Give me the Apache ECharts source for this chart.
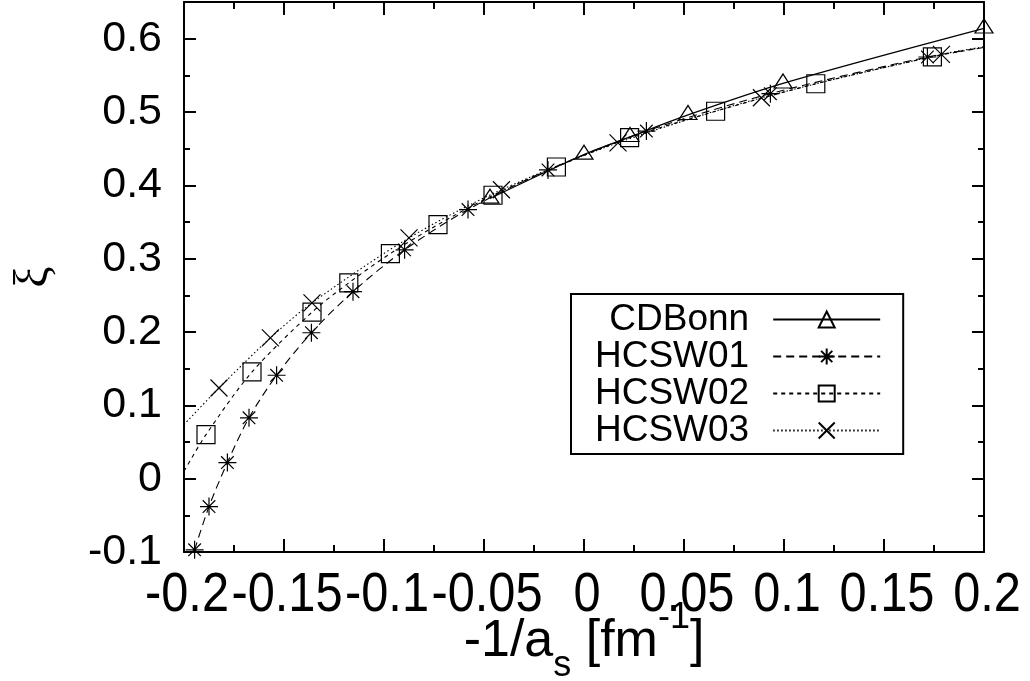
<!DOCTYPE html>
<html>
<head>
<meta charset="utf-8">
<script src="https://cdn.jsdelivr.net/npm/echarts@6/dist/echarts.min.js"></script>
<style>html,body{margin:0;padding:0;background:#fff;}#c{width:1030px;height:681px;}</style>
</head>
<body>
<div id="c"></div>
<script>
// ---- data ----
const seriesNames = ['CDBonn', 'HCSW01', 'HCSW02', 'HCSW03'];

const cdbonnX = [-0.047, 0.0, 0.023, 0.052, 0.0995, 0.2];
const cdbonnY = [0.382, 0.442, 0.466, 0.496, 0.539, 0.614];

const hcsw01X = [-0.1947, -0.1875, -0.1783, -0.1675, -0.1537, -0.1363, -0.1155, -0.0897, -0.058, -0.018, 0.0312, 0.0932, 0.1717];
const hcsw01Y = [-0.097, -0.038, 0.022, 0.083, 0.141, 0.199, 0.255, 0.312, 0.367, 0.421, 0.474, 0.525, 0.575];
const hcsw01LineStart = [];
const hcsw01LineEnd = [[0.2, 0.588]];

const hcsw02X = [-0.189, -0.166, -0.136, -0.1176, -0.0968, -0.073, -0.0455, -0.0138, 0.0228, 0.0658, 0.1159, 0.1742];
const hcsw02Y = [0.060, 0.1455, 0.227, 0.267, 0.307, 0.3465, 0.3865, 0.425, 0.465, 0.501, 0.5385, 0.5753];
const hcsw02LineStart = [[-0.2, 0.01]];
const hcsw02LineEnd = [[0.2, 0.588]];

const hcsw03X = [-0.1825, -0.1568, -0.136, -0.0875, -0.0413, 0.017, 0.0887, 0.1787];
const hcsw03Y = [0.1237, 0.192, 0.2397, 0.3284, 0.394, 0.458, 0.5194, 0.5785];
const hcsw03LineStart = [[-0.2, 0.0737]];
const hcsw03LineEnd = [[0.2, 0.589]];

const xTickLabels = ['-0.2', '-0.15', '-0.1', '-0.05', '0', '0.05', '0.1', '0.15', '0.2'];
const xTickMin = -0.2, xTickMax = 0.2, xTickStep = 0.05;
const yTickMin = -0.1, yTickMax = 0.6, yTickStep = 0.1, yAxisMax = 0.65;

// ---- build ----
const FONT = "'Liberation Sans', Arial, Helvetica, sans-serif";
function buildData(xs, ys, start, end) {
  const out = [];
  (start || []).forEach(p => out.push({ value: p, symbol: 'none' }));
  xs.forEach((x, i) => out.push({ value: [x, ys[i]] }));
  (end || []).forEach(p => out.push({ value: p, symbol: 'none' }));
  return out;
}
const asteriskPath = 'path://M0,10L20,10M10,0L10,20M3,3L17,17M17,3L3,17';
const crossPath = 'path://M0,0L20,20M20,0L0,20';

const axisLineStyle = { color: '#000', width: 2 };
function xAxisDef(pos) {
  return {
    type: 'value', position: pos, min: xTickMin, max: xTickMax, interval: xTickStep,
    axisLine: { show: true, onZero: false, lineStyle: axisLineStyle },
    axisTick: { show: true, inside: true, length: 13, lineStyle: { color: '#000', width: 2 } },
    minorTick: { show: true, splitNumber: 2, length: 7, lineStyle: { color: '#000', width: 2 } },
    splitLine: { show: false },
    axisLabel: { show: false },
    silent: true
  };
}
function yAxisDef(pos, step, len, showLine, showLabel) {
  return {
    type: 'value', position: pos, min: yTickMin, max: yAxisMax, interval: step,
    axisLine: { show: showLine, onZero: false, lineStyle: axisLineStyle },
    axisTick: { show: true, inside: true, length: len, lineStyle: { color: '#000', width: 2 } },
    splitLine: { show: false },
    axisLabel: {
      show: showLabel, color: '#000', fontSize: 43, fontFamily: FONT, margin: 22,
      hideOverlap: false, showMinLabel: true,
      formatter: v => (v > yTickMax + 1e-9 ? '' : String(Math.round(v * 10) / 10))
    },
    silent: true
  };
}

const xAxes = [xAxisDef('bottom'), xAxisDef('top')];
xAxes[0].name = '-1/a{sub|s} [fm{sup|-1}]';
xAxes[0].nameLocation = 'middle';
xAxes[0].nameGap = 48;
xAxes[0].nameTextStyle = {
  color: '#000', fontSize: 52, fontFamily: FONT, lineHeight: 84,
  rich: {
    sub: { fontSize: 36, lineHeight: 36, verticalAlign: 'bottom', fontFamily: FONT, color: '#000' },
    sup: { fontSize: 36, lineHeight: 36, verticalAlign: 'top', fontFamily: FONT, color: '#000' }
  }
};

const yAxes = [
  yAxisDef('left', yTickStep, 12, true, true),
  yAxisDef('left', yTickStep / 2, 6, false, false),
  yAxisDef('right', yTickStep, 12, true, false),
  yAxisDef('right', yTickStep / 2, 6, false, false)
];
yAxes[0].name = 'ξ';
yAxes[0].nameLocation = 'middle';
yAxes[0].nameRotate = 90;
yAxes[0].nameGap = 126;
yAxes[0].nameTextStyle = { color: '#000', fontSize: 48, fontFamily: "'Liberation Serif', 'DejaVu Serif', serif" };

function lineSeries(name, data, symbol, symbolSize, lineType, width, extra) {
  return Object.assign({
    name: name, type: 'line', data: data, xAxisIndex: 0, yAxisIndex: 0,
    symbol: symbol, symbolSize: symbolSize, showAllSymbol: true,
    smooth: 0.3,
    lineStyle: { color: '#000', width: width, type: lineType },
    itemStyle: { color: 'none', borderColor: '#000', borderWidth: 1.2 },
    emphasis: { disabled: true }, silent: true, clip: true
  }, extra || {});
}

const option = {
  backgroundColor: '#fff',
  animation: false,
  grid: { left: 184, right: 46, top: 2, bottom: 129, containLabel: false, outerBoundsMode: 'none' },
  xAxis: xAxes,
  yAxis: yAxes,
  legend: {
    orient: 'vertical', left: 571, top: 294, align: 'right',
    itemWidth: 107, itemHeight: 20, itemGap: 0,
    padding: [7, 22, 5, 24],
    borderColor: '#000', borderWidth: 2, backgroundColor: '#fff',
    textStyle: { color: '#000', fontSize: 37, lineHeight: 37, fontFamily: FONT, padding: [0, 19, 0, 0] },
    selectedMode: false,
    data: seriesNames
  },
  series: [
    lineSeries(seriesNames[0], buildData(cdbonnX, cdbonnY), 'triangle', [18, 14], 'solid', 1.2, { symbolOffset: [0, '-17%'] }),
    lineSeries(seriesNames[1], buildData(hcsw01X, hcsw01Y, hcsw01LineStart, hcsw01LineEnd), asteriskPath, 18, [8, 5], 1.1),
    lineSeries(seriesNames[2], buildData(hcsw02X, hcsw02Y, hcsw02LineStart, hcsw02LineEnd), 'rect', 18, [4, 4], 1.1),
    lineSeries(seriesNames[3], buildData(hcsw03X, hcsw03Y, hcsw03LineStart, hcsw03LineEnd), crossPath, 17, [1.5, 2.5], 1.1)
  ]
};

const chart = echarts.init(document.getElementById('c'), null, { renderer: 'canvas' });
chart.setOption(option);

// x tick labels placed through the axis scale (all shown, as in the reference)
const baseY = chart.convertToPixel({ yAxisIndex: 0 }, yTickMin);
const labelGraphics = xTickLabels.map(t => ({
  type: 'text', silent: true,
  x: chart.convertToPixel({ xAxisIndex: 0 }, Number(t)) + 3,
  y: baseY + 44,
  scaleX: 0.87,
  style: { text: t, font: '56px ' + FONT, fill: '#000', align: 'center', verticalAlign: 'middle' }
}));
chart.setOption({ graphic: labelGraphics });
</script>
</body>
</html>
